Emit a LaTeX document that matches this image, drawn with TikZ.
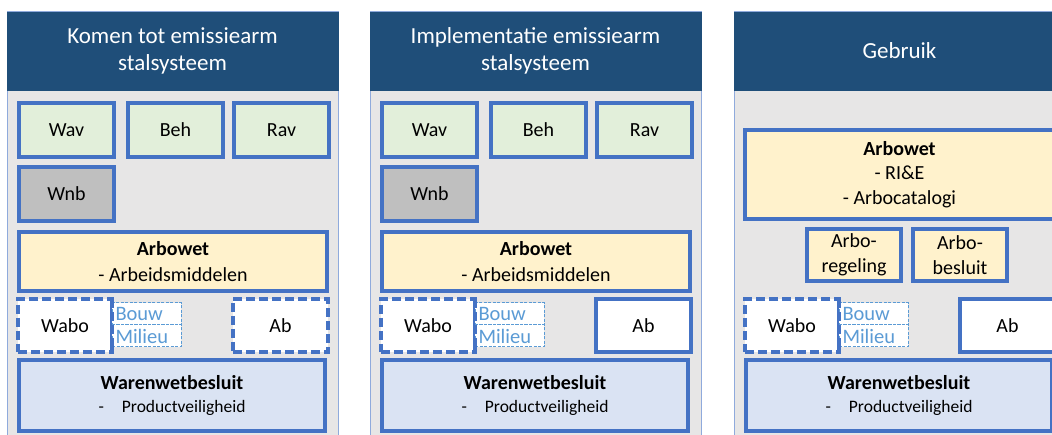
\documentclass[tikz,border=0pt]{standalone}
\usepackage{fontspec}
\setmainfont{Carlito}
\definecolor{headblue}{HTML}{1F4E79}
\definecolor{edgeblue}{HTML}{4472C4}
\definecolor{lightblue}{HTML}{5B9BD5}
\definecolor{panelgrey}{HTML}{E7E6E6}
\definecolor{paneledge}{HTML}{8FAADC}
\definecolor{greenfill}{HTML}{E2EFDA}
\definecolor{greyfill}{HTML}{BFBFBF}
\definecolor{yellowfill}{HTML}{FFF2CC}
\definecolor{bluefill}{HTML}{DAE3F3}
\tikzset{
    lawbox/.style={draw=edgeblue, line width=3.2pt, inner sep=0pt, outer sep=0pt,
        anchor=north west, align=center, font=\fontsize{20}{24.5}\selectfont},
    smallbox/.style={lawbox, minimum width=95pt, minimum height=54pt},
    greenbox/.style={smallbox, fill=greenfill},
    greybox/.style={smallbox, fill=greyfill},
    yellowbox/.style={lawbox, fill=yellowfill},
    bluebox/.style={lawbox, fill=bluefill, minimum width=306pt, minimum height=71pt},
    whitebox/.style={lawbox, fill=white, minimum width=95pt, minimum height=53pt},
    dashbox/.style={whitebox, dash pattern=on 9pt off 4pt},
    subbox/.style={draw=lightblue, fill=white, line width=1pt, dash pattern=on 3pt off 1.5pt,
        inner sep=0pt, outer sep=0pt, anchor=north west, minimum width=69pt, minimum height=22pt,
        text width=62pt, align=left, text=lightblue, font=\fontsize{20.5}{24}\selectfont},
    panel/.style={draw=paneledge, fill=panelgrey, line width=1pt, inner sep=0pt, outer sep=0pt,
        anchor=north west, minimum width=331pt, minimum height=440pt},
    header/.style={draw=headblue, fill=headblue, inner sep=0pt, outer sep=0pt, anchor=north west,
        minimum width=331pt, minimum height=78pt, text=white, align=center,
        font=\fontsize{23}{27.5}\selectfont}
}
\begin{document}
\begin{tikzpicture}[x=1pt, y=-1pt]
    \useasboundingbox (0,0) rectangle (1052,435);
    \clip (0,0) rectangle (1052,435);

    % panels, common to all three phases
    \foreach \c/\xo in {1/7, 2/370, 3/734} {
        \begin{scope}[xshift=\xo pt]
            \node[panel] (panel\c) at (0,12) {};
            \node[dashbox, minimum width=94pt] (wabo\c) at (11,299) {Wabo};
            \node[subbox] (bouw\c) at (105,303) {Bouw};
            \node[subbox] (milieu\c) at (105,325) {Milieu};
            \draw[edgeblue, line width=3.2pt, dash pattern=on 9pt off 4pt] (wabo\c.north east) -- (wabo\c.south east);
            \node[bluebox] (wwb\c) at (12,360)
                {\textbf{Warenwetbesluit}\\[-1pt]{\fontsize{17.5}{21}\selectfont -\hspace{18pt}Productveiligheid}};
        \end{scope}
    }

    \node[header] (head1) at (7,12) {Komen tot emissiearm\\stalsysteem};
    \node[header] (head2) at (370,12) {Implementatie emissiearm\\stalsysteem};
    \node[header] (head3) at (734,12) {Gebruik};

    % regels voor komen tot en implementatie
    \foreach \c/\xo in {1/7, 2/370} {
        \begin{scope}[xshift=\xo pt]
            \node[greenbox] (wav\c) at (12,103) {Wav};
            \node[greenbox] (beh\c) at (121,103) {Beh};
            \node[greenbox] (rav\c) at (227,103) {Rav};
            \node[greybox] (wnb\c) at (12,167) {Wnb};
            \node[yellowbox, minimum width=308pt, minimum height=59pt] (arbowet\c) at (12,232)
                {\textbf{Arbowet}\\[1pt]- Arbeidsmiddelen};
        \end{scope}
    }
    \node[dashbox] (ab1) at (233,299) {Ab};
    \node[whitebox] (ab2) at (596,299) {Ab};

    % gebruik
    \begin{scope}[xshift=734pt]
        \node[yellowbox, minimum width=309pt, minimum height=89pt] (arbowet3) at (11,130)
            {\textbf{Arbowet}\\- RI\&E\\- Arbocatalogi};
        \node[yellowbox, minimum width=94pt, minimum height=52pt] (regeling3) at (73,229) {Arbo-\\regeling};
        \node[yellowbox, minimum width=94pt, minimum height=52pt] (besluit3) at (179,229) {Arbo-\\besluit};
        \node[whitebox] (ab3) at (226,299) {Ab};
    \end{scope}
\end{tikzpicture}
\end{document}
